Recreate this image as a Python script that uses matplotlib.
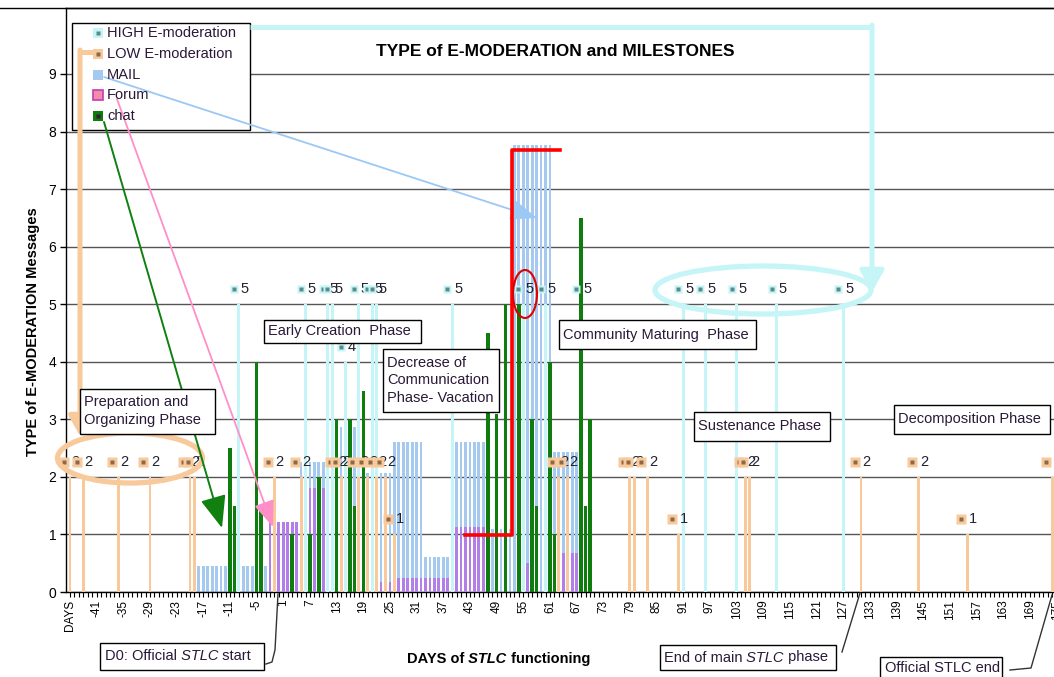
import numpy as np
import matplotlib.pyplot as plt
import matplotlib.transforms as mtransforms
from matplotlib.patches import Rectangle, Ellipse

plt.rcParams['font.family'] = ['Liberation Sans', 'DejaVu Sans']

# ---------------- data (x = day of STLC functioning, "DAYS" is the first category) ----------------
first_day = -47
last_day = 175

high_days = [-9, 6, 11, 12, 15, 18, 21, 22, 39, 55, 60, 68, 91, 96, 103, 112, 127]
high_vals = [5, 5, 5, 5, 4, 5, 5, 5, 5, 5, 5, 5, 5, 5, 5, 5, 5]

low_days = [-47, -44, -36, -29, -20, -19, -1, 5, 13, 14, 18, 20, 22, 24, 26,
            63, 65, 79, 80, 83, 90, 105, 106, 131, 144, 155, 174]
low_vals = [2, 2, 2, 2, 2, 2, 2, 2, 2, 2, 2, 2, 2, 2, 1,
            2, 2, 2, 2, 2, 1, 2, 2, 2, 2, 1, 2]

mail_days = list(range(-18, 68))
mail_vals = [0.45, 0.45, 0.45, 0.45, 0.45, 0.45, 0.45, 0.45, 0.45, 0.45, 0.45, 0.45,   # -18..-7
             0.45, 0.45, 0.45, 0.45, 0.45, 0.45, 0.45, 0.45, 0.45, 0.45, 0.45,         # -6..4
             2.26, 2.26, 2.26, 2.26, 2.26, 2.26, 2.26,                                 # 5..11
             2.87, 2.87, 2.87, 2.87, 2.87, 2.87,                                       # 12..17
             2.07, 2.07, 2.07, 2.07, 2.07, 2.07, 2.07, 2.07,                           # 18..25
             2.6, 2.6, 2.6, 2.6, 2.6, 2.6, 2.6,                                        # 26..32
             0.6, 0.6, 0.6, 0.6, 0.6, 0.6, 0.6,                                        # 33..39
             2.6, 2.6, 2.6, 2.6, 2.6, 2.6, 2.6,                                        # 40..46
             1.1, 1.1, 1.1, 1.1, 1.1, 1.1,                                             # 47..52
             7.77, 7.77, 7.77, 7.77, 7.77, 7.77, 7.77, 7.77, 7.77,                     # 53..61
             2.44, 2.44, 2.44, 2.44, 2.44, 2.44]                                       # 62..67

forum_days = list(range(-2, 68))
forum_vals = [1.22, 1.22, 1.22, 1.22, 1.22, 1.22, 1.22,          # -2..4
              1.8, 1.8, 1.8, 1.8, 1.8, 1.8, 1.8,                 # 5..11
              0.38, 0.38, 0.38, 0.38, 0.38, 0.38, 0.38,          # 12..18
              0.17, 0.17, 0.17, 0.17, 0.17, 0.17, 0.17,          # 19..25
              0.24, 0.24, 0.24, 0.24, 0.24, 0.24, 0.24,          # 26..32
              0.24, 0.24, 0.24, 0.24, 0.24, 0.24, 0.24,          # 33..39
              1.13, 1.13, 1.13, 1.13, 1.13, 1.13, 1.13,          # 40..46
              0, 0, 0, 0, 0, 0, 0, 0, 0, 0.5,                    # 47..56
              0, 0, 0, 0.5, 0, 0,                                # 57..62
              0.68, 0.68, 0.68, 0.68, 0.68]                      # 63..67

chat_days = [-11, -10, -5, -4, 3, 7, 9, 13, 16, 17, 19,
             47, 49, 51, 54, 57, 58, 61, 62, 68, 69, 70]
chat_vals = [2.5, 1.5, 4.0, 1.5, 1.0, 1.0, 2.0, 3.0, 3.0, 1.5, 3.5,
             4.5, 3.1, 5.0, 5.0, 3.0, 1.5, 4.0, 1.0, 6.5, 1.5, 3.0]

tick_days = list(range(first_day, last_day + 1, 6))
tick_labels = ['DAYS'] + [str(d) for d in tick_days[1:]]

# ---------------- colours ----------------
HIGH_C = '#c6f5f7'
LOW_C = '#f8c99b'
MAIL_C = '#a6c9f0'
FORUM_C = '#b27ee8'
CHAT_C = '#0e7c0e'
TXT_C = '#2a1838'

# ---------------- figure / main axes (pixel layout of the reference) ----------------
W, H = 1054, 677
fig = plt.figure(figsize=(W / 100, H / 100), dpi=100)
px_day = 4.444
px_unit = 57.56
left_px, right_px, top_px, bot_px = 66, 1076, 8, 592
ax = fig.add_axes([left_px / W, 1 - bot_px / H, (right_px - left_px) / W, (bot_px - top_px) / H])
x0 = first_day - 4 / px_day
ax.set_xlim(x0, x0 + (right_px - left_px) / px_day)
ax.set_ylim(0, (bot_px - top_px) / px_unit)

ax.bar(mail_days, mail_vals, width=0.62, color=MAIL_C, linewidth=0, zorder=2)
ax.bar(forum_days, forum_vals, width=0.62, color=FORUM_C, linewidth=0, zorder=3)
ax.bar(high_days, high_vals, width=0.66, color=HIGH_C, linewidth=0, zorder=3.5)
ax.bar(low_days, low_vals, width=0.66, color=LOW_C, linewidth=0, zorder=3.6)
ax.bar(chat_days, chat_vals, width=0.8, color=CHAT_C, linewidth=0, zorder=4)

ax.set_axisbelow(True)
ax.yaxis.grid(True, color='#555555', linewidth=1.0)
ax.set_yticks(range(0, 10))
ax.tick_params(axis='y', length=4, width=1, pad=3, labelsize=10, direction='out')
ax.set_xticks(range(first_day, last_day + 1), minor=True)
ax.set_xticks(tick_days)
ax.set_xticklabels(tick_labels, rotation=90, fontsize=8.5)
ax.tick_params(axis='x', which='both', length=3.5, width=0.8, pad=2, direction='out')
for s in ['left', 'bottom', 'top']:
    ax.spines[s].set_color('black')
    ax.spines[s].set_linewidth(1)
ax.spines['right'].set_visible(False)


def value_labels(days, vals, key_color, dot_color, key_px, key_dx, txt_dx, z0):
    key_tr = mtransforms.offset_copy(ax.transData, fig=fig, x=key_dx * 0.72, y=15 * 0.72, units='points')
    for i, (d, v) in enumerate(zip(days, vals)):
        z = z0 + i * 0.01
        ax.plot([d], [v], ls='none', marker='s', ms=key_px * 0.72, mfc=key_color, mec='none',
                transform=key_tr, zorder=z, clip_on=False)
        ax.plot([d], [v], ls='none', marker='s', ms=2.2, mfc=dot_color, mec='none',
                transform=key_tr, zorder=z + 0.002, clip_on=False)
        ax.annotate(f'{v:g}', (d, v), xytext=(txt_dx * 0.72, 15 * 0.72), textcoords='offset points',
                    ha='left', va='center', fontsize=10.5, color='#222230', zorder=z + 0.005)


value_labels(high_days, high_vals, HIGH_C, '#5a8a8a', 8, -5, 2, 6)
value_labels(low_days, low_vals, LOW_C, '#8a6a4a', 10, -6.5, 1.3, 7)

# ---------------- overlay in pixel coordinates for the hand-drawn annotations ----------------
ov = fig.add_axes([0, 0, 1, 1], zorder=10)
ov.set_xlim(0, W)
ov.set_ylim(H, 0)
ov.axis('off')
ov.patch.set_alpha(0)

ov.plot([0, W], [8, 8], color='black', lw=1)


def box(x_0, y_0, x_1, y_1, z=5):
    ov.add_patch(Rectangle((x_0, y_0), x_1 - x_0, y_1 - y_0, fc='white', ec='black', lw=1, zorder=z))


def pieces(x, y, parts, size=10.5, weight='normal', color=TXT_C):
    t = ov.text(x, y, parts[0][0], fontsize=size, fontweight=weight, fontstyle=parts[0][1],
                ha='left', va='center', color=color, zorder=6)
    for txt, style in parts[1:]:
        t = ov.annotate(txt, xy=(1, 0), xycoords=t, ha='left', va='bottom', fontsize=size,
                        fontweight=weight, fontstyle=style, color=color, zorder=6)
    return t


# title and axis titles
ov.text(555, 52, 'TYPE of E-MODERATION and MILESTONES', fontsize=12.5, fontweight='bold',
        ha='center', va='center', color='black')
ov.text(33, 332, 'TYPE of E-MODERATION Messages', fontsize=10.5, fontweight='bold',
        rotation=90, ha='center', va='center', color='black')
pieces(407, 659, [('DAYS of', 'normal'), (' STLC', 'italic'), (' functioning', 'normal')],
       size=10.5, weight='bold', color='black')

# legend (arrows start from its keys, so it sits below them)
box(72, 23, 250, 130, z=2)
leg_names = ['HIGH E-moderation', 'LOW E-moderation', 'MAIL', 'Forum', 'chat']
leg_fill = [HIGH_C, LOW_C, MAIL_C, '#f28ca8', CHAT_C]
leg_edge = ['none', 'none', 'none', '#c43cb4', 'none']
leg_dot = ['#5a8a8a', '#8a6a4a', None, None, '#3a1a3a']
for i, name in enumerate(leg_names):
    yy = 33 + i * 20.8
    ov.plot([98], [yy], marker='s', ms=7.2, mfc=leg_fill[i], mec=leg_edge[i], mew=1.2, zorder=6)
    if leg_dot[i]:
        ov.plot([98], [yy], marker='s', ms=2.2, mfc=leg_dot[i], mec='none', zorder=7)
    ov.text(107, yy, name, fontsize=10.5, ha='left', va='center', color=TXT_C, zorder=6)

# phase boxes
box(80, 389, 215, 434)
ov.text(84, 411, 'Preparation and\nOrganizing Phase', fontsize=10.5, ha='left', va='center',
        color=TXT_C, zorder=6, linespacing=1.3)
box(264, 320, 421, 343)
ov.text(268, 331.5, 'Early Creation  Phase', fontsize=10.5, ha='left', va='center', color=TXT_C, zorder=6)
box(383, 349, 499, 412)
ov.text(387, 380.5, 'Decrease of\nCommunication\nPhase- Vacation', fontsize=10.5, ha='left',
        va='center', color=TXT_C, zorder=6, linespacing=1.3)
box(559, 320, 756, 349)
ov.text(563, 334.5, 'Community Maturing  Phase', fontsize=10.5, ha='left', va='center', color=TXT_C, zorder=6)
box(694, 412, 830, 441)
ov.text(698, 426.5, 'Sustenance Phase', fontsize=10.5, ha='left', va='center', color=TXT_C, zorder=6)
box(894, 405, 1050, 434)
ov.text(898, 419.5, 'Decomposition Phase', fontsize=10.5, ha='left', va='center', color=TXT_C, zorder=6)

# milestone boxes with leader lines
box(100, 643, 264, 670)
pieces(105, 656.5, [('D0: Official', 'normal'), (' STLC', 'italic'), (' start', 'normal')])
ov.plot([266, 272, 275, 278], [664, 662, 650, 594], color='#333333', lw=1)
box(660, 645, 836, 670)
pieces(664, 657.5, [('End of main', 'normal'), (' STLC', 'italic'), (' phase', 'normal')])
ov.plot([842, 860], [652, 593], color='#333333', lw=1)
box(880, 657, 1002, 690)
ov.text(885, 668, 'Official STLC end', fontsize=10.5, ha='left', va='center', color=TXT_C, zorder=6)
ov.plot([1010, 1031, 1052], [670, 668, 595], color='#333333', lw=1)

# highlighting arrows and ellipses
ov.plot([250, 872], [27, 27], color=HIGH_C, lw=3.6, solid_capstyle='butt', zorder=4)
ov.annotate('', xy=(872, 292), xytext=(872, 25),
            arrowprops=dict(arrowstyle='-|>,head_length=0.8,head_width=0.45', mutation_scale=16,
                            color=HIGH_C, lw=3.6, shrinkA=0, shrinkB=0), zorder=4)
ov.add_patch(Ellipse((763, 290), 216, 48, fill=False, ec=HIGH_C, lw=3.8, zorder=4))

ov.plot([94, 80], [52, 52], color=LOW_C, lw=3.6, solid_capstyle='butt', zorder=4)
ov.annotate('', xy=(80, 436), xytext=(80, 50),
            arrowprops=dict(arrowstyle='-|>,head_length=0.8,head_width=0.45', mutation_scale=15,
                            color=LOW_C, lw=3.6, shrinkA=0, shrinkB=0), zorder=4)
ov.add_patch(Ellipse((130, 458), 145, 50, fill=False, ec=LOW_C, lw=3.8, zorder=4))

ov.annotate('', xy=(537, 218), xytext=(104, 77),
            arrowprops=dict(arrowstyle='-|>,head_length=0.9,head_width=0.35', mutation_scale=18,
                            color='#9cc8f5', lw=1.3, shrinkA=0, shrinkB=0), zorder=4)
ov.annotate('', xy=(273, 527), xytext=(117, 99),
            arrowprops=dict(arrowstyle='-|>,head_length=0.9,head_width=0.35', mutation_scale=18,
                            color='#ff8fc8', lw=1.3, shrinkA=0, shrinkB=0), zorder=4)
ov.annotate('', xy=(222, 528), xytext=(104, 122),
            arrowprops=dict(arrowstyle='-|>,head_length=1.0,head_width=0.4', mutation_scale=20,
                            color='#108010', lw=1.4, shrinkA=0, shrinkB=0), zorder=4)

ov.plot([465, 512, 512, 560], [535, 535, 150, 150], color='#ff0000', lw=2.6, zorder=4)
ov.add_patch(Ellipse((525, 294), 24, 48, fill=False, ec='#e00000', lw=1.5, zorder=4))

fig.savefig('out.png', dpi=100)
